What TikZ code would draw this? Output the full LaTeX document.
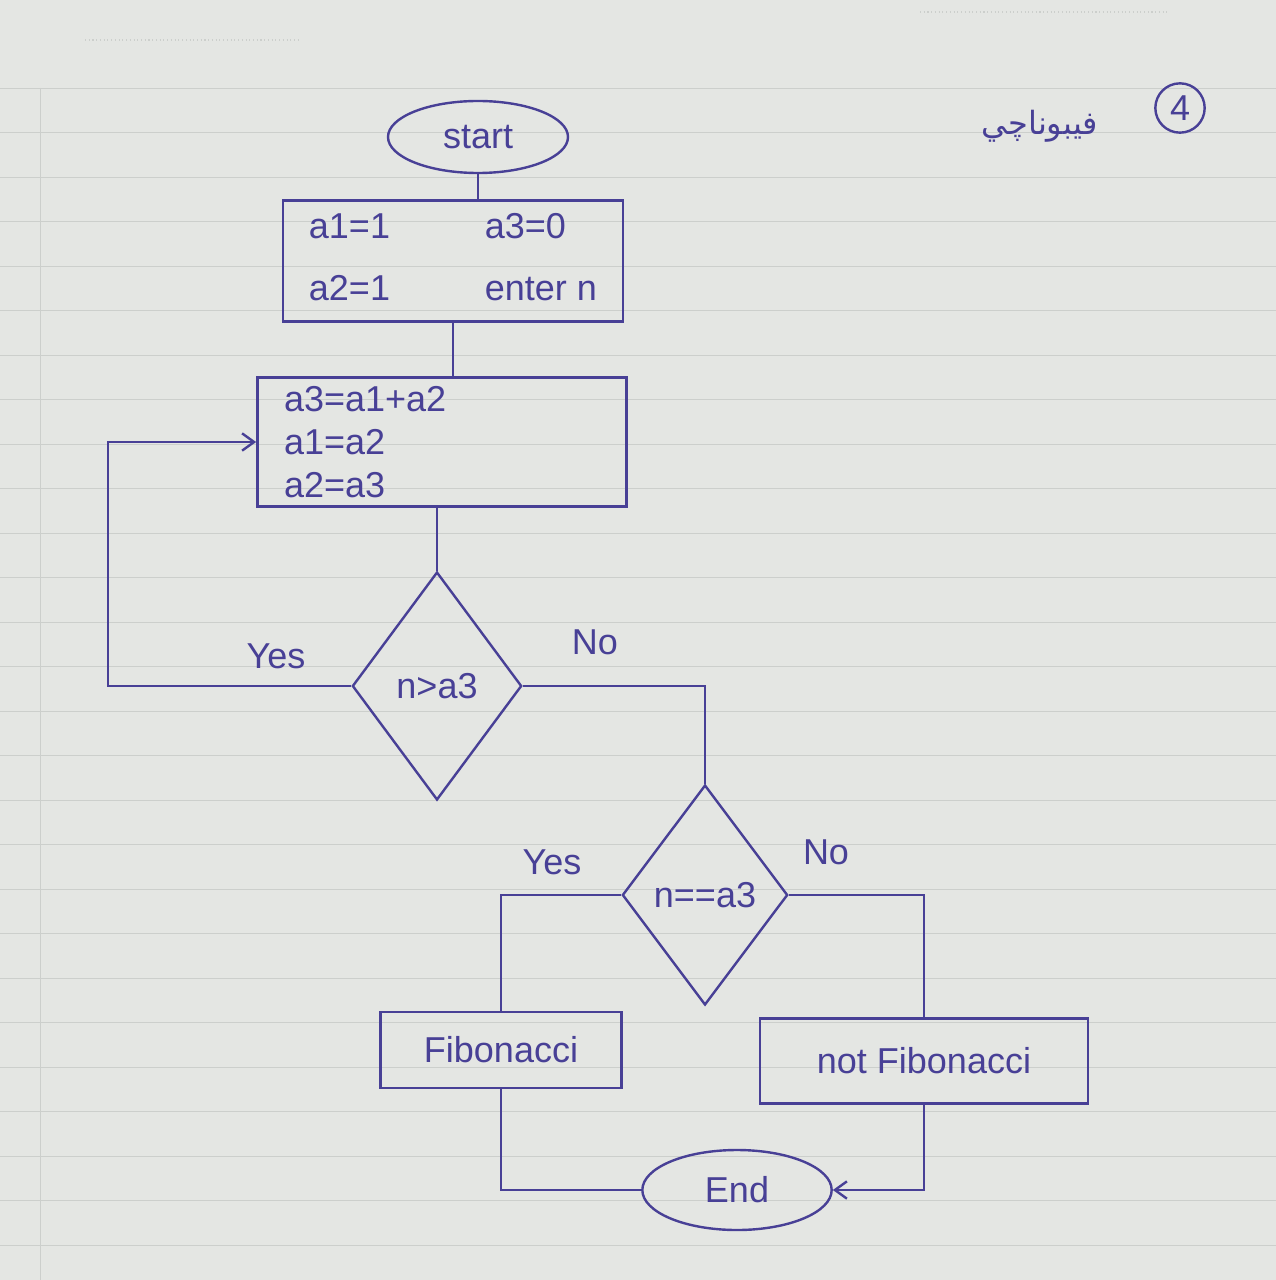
\documentclass[tikz,border=0pt]{standalone}
\usepackage{fontspec}
\setmainfont{Liberation Sans}
\newfontfamily\arabicfont[Script=Arabic]{DejaVu Sans}
\TeXXeTstate=1
\usetikzlibrary{shapes.geometric,arrows.meta}
\definecolor{ink}{RGB}{72,64,150}
\definecolor{paper}{RGB}{228,230,227}
\definecolor{ruled}{RGB}{204,207,204}

\begin{document}
\begin{tikzpicture}[x=0.75pt,y=0.75pt,yscale=-1,xscale=1,
    inkline/.style={draw=ink,line width=1.8pt},
    handtext/.style={text=ink,font=\fontsize{27}{32}\selectfont},
    terminal/.style={ellipse,inkline,handtext,inner sep=0pt},
    box/.style={rectangle,inkline,handtext,inner sep=0pt},
    decision/.style={diamond,inkline,handtext,inner sep=0pt},
    answer/.style={handtext,inner sep=0.75pt},
    flow/.style={inkline},
    arrowflow/.style={inkline,-{Straight Barb[length=9pt,width=13pt]}}]

    % paper
    \fill[paper] (0,0) rectangle (1276,1280);
    \useasboundingbox (0,0) rectangle (1276,1280);
    \foreach \y in {88,132,177,221,266,310,355,399,444,488,533,577,622,666,711,755,800,844,889,933,978,1022,1067,1111,1156,1200,1245}
        \draw[ruled,line width=0.6pt] (0,\y) -- (1276,\y);
    \draw[ruled,line width=0.6pt] (40,88) -- (40,1280);
    \draw[ruled,line width=0.8pt,dotted] (85,40) -- (300,40);
    \draw[ruled,line width=0.8pt,dotted] (920,12) -- (1170,12);

    % Text Node
    \node (num) [circle,inkline,handtext,minimum size=37pt,inner sep=0pt] at (1180,108) {4};
    % Text Node
    \node (title) [text=ink,font=\fontsize{24}{28}\selectfont,inner sep=0.75pt] at (1040,126) {\arabicfont\beginR فيبوناچي\endR};

    %Shape: Ellipse
    \node (start) [terminal,minimum width=135pt,minimum height=54pt] at (478,137) {start};
    %Shape: Rectangle
    \node (init) [box,minimum width=255pt,minimum height=91pt] at (453,261)
        {\begin{tabular}{@{}p{120pt}l@{}}a1=1 & a3=0\\[14pt] a2=1 & enter n\end{tabular}};
    %Shape: Rectangle
    \node (proc) [box,minimum width=277pt,minimum height=97pt,text width=237pt,align=left] at (442,442)
        {a3=a1+a2\\ a1=a2\\ a2=a3};
    %Shape: Diamond
    \node (test) [decision,minimum width=127pt,minimum height=171pt] at (437,686) {n>a3};
    %Shape: Diamond
    \node (check) [decision,minimum width=124pt,minimum height=165pt] at (705,895) {n==a3};
    %Shape: Rectangle
    \node (fib) [box,minimum width=181pt,minimum height=57pt] at (501,1050) {Fibonacci};
    %Shape: Rectangle
    \node (notfib) [box,minimum width=246pt,minimum height=64pt] at (924,1061) {not Fibonacci};
    %Shape: Ellipse
    \node (end) [terminal,minimum width=142pt,minimum height=60pt] at (737,1190) {End};

    %Straight Lines
    \draw[flow] (start.south) -- (start.south |- init.north);
    \draw[flow] (init.south) -- (init.south |- proc.north);
    \draw[flow] (proc.south -| test.north) -- (test.north);
    \draw[arrowflow] (test.west) -- ++(-243,0) |- (proc.west);
    \draw[flow] (test.east) -| (check.north);
    \draw[flow] (check.west) -| (fib.north);
    \draw[flow] (check.east) -| (notfib.north);
    \draw[flow] (fib.south) |- (end.west);
    \draw[arrowflow] (notfib.south) |- (end.east);

    % Text Node
    \node (yes1) [answer] at (276,656) {Yes};
    % Text Node
    \node (no1) [answer] at (595,642) {No};
    % Text Node
    \node (yes2) [answer] at (552,862) {Yes};
    % Text Node
    \node (no2) [answer] at (826,852) {No};
\end{tikzpicture}
\end{document}
